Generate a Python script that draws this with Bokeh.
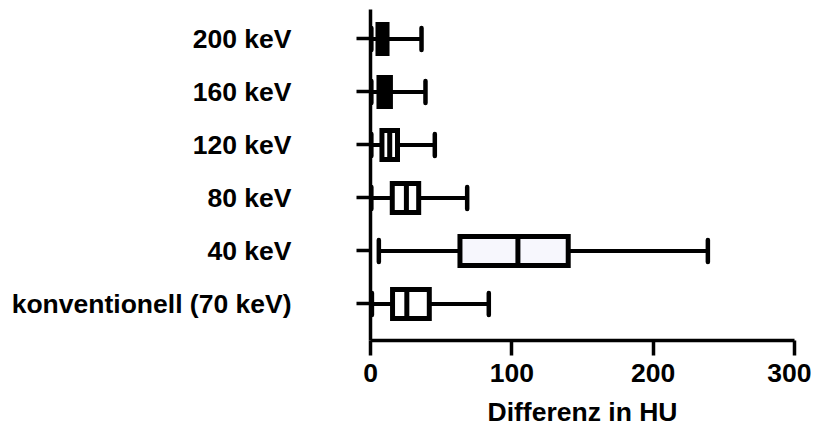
from bokeh.plotting import figure
from bokeh.models import FixedTicker, Range1d, ColumnDataSource
from bokeh.embed import file_html
from bokeh.resources import INLINE

labels = ["konventionell (70 keV)", "40 keV", "80 keV", "120 keV", "160 keV", "200 keV"]
mins = [1.0, 5.9, 0.6, 0.6, 0.6, 0.6]
q1 = [15.6, 63.3, 15.4, 8.1, 6.0, 5.3]
med = [25.7, 104.3, 25.4, 13.6, 10.5, 8.5]
q3 = [41.6, 139.9, 34.1, 19.1, 14.1, 11.7]
maxs = [83.7, 238.7, 68.4, 45.5, 38.9, 36.1]
fills = ["white", "#f7f7fd", "white", "white", "black", "black"]
x_ticks = [0, 100, 200, 300]

ys = list(range(len(labels)))
bh = 0.547
ch = 0.415

src = ColumnDataSource(dict(
    y=ys, mins=mins, q1=q1, med=med, q3=q3, maxs=maxs, fill=fills,
    ylo=[y - bh / 2 for y in ys], yhi=[y + bh / 2 for y in ys],
    clo=[y - ch / 2 for y in ys], chi=[y + ch / 2 for y in ys],
))

p = figure(width=811, height=429, output_backend="svg", toolbar_location=None,
           x_range=Range1d(0, 300), y_range=Range1d(-0.69, 5.555),
           min_border_left=370, min_border_right=17, min_border_top=9, min_border_bottom=89)
p.outline_line_color = None
p.xgrid.visible = False
p.ygrid.visible = False
p.background_fill_color = "white"

BLACK = "black"
# whiskers
p.segment(x0="mins", y0="y", x1="q1", y1="y", source=src, line_color=BLACK, line_width=4)
p.segment(x0="q3", y0="y", x1="maxs", y1="y", source=src, line_color=BLACK, line_width=4)
# caps
p.segment(x0="mins", y0="clo", x1="mins", y1="chi", source=src, line_color=BLACK, line_width=4.5, line_cap="round")
p.segment(x0="maxs", y0="clo", x1="maxs", y1="chi", source=src, line_color=BLACK, line_width=4.5, line_cap="round")
# boxes
p.hbar(y="y", left="q1", right="q3", height=bh, source=src, fill_color="fill",
       line_color=BLACK, line_width=5, line_join="miter")
# medians
p.segment(x0="med", y0="ylo", x1="med", y1="yhi", source=src, line_color=BLACK, line_width=5)

FONT = "Liberation Sans"
for ax in (p.xaxis[0], p.yaxis[0]):
    ax.axis_line_width = 3.5
    ax.axis_line_color = BLACK
    ax.major_tick_line_width = 3.5
    ax.major_tick_line_color = BLACK
    ax.major_tick_in = 0
    ax.minor_tick_line_color = None
    ax.major_label_text_font = FONT
    ax.major_label_text_font_style = "bold"
    ax.major_label_text_font_size = "26.5px"
    ax.major_label_text_color = BLACK

p.yaxis.ticker = FixedTicker(ticks=ys)
p.yaxis.major_label_overrides = {i: l for i, l in zip(ys, labels)}
p.yaxis.major_tick_out = 14
p.yaxis.major_label_standoff = 65

p.xaxis.ticker = FixedTicker(ticks=x_ticks)
p.xaxis.major_tick_out = 15
p.xaxis.major_label_standoff = 8
p.xaxis.axis_label = "Differenz in HU"
p.xaxis.axis_label_text_font = FONT
p.xaxis.axis_label_text_font_style = "bold"
p.xaxis.axis_label_text_font_size = "26.5px"
p.xaxis.axis_label_text_color = BLACK
p.xaxis.axis_label_standoff = 12

open("out.html", "w").write(file_html(p, INLINE))
